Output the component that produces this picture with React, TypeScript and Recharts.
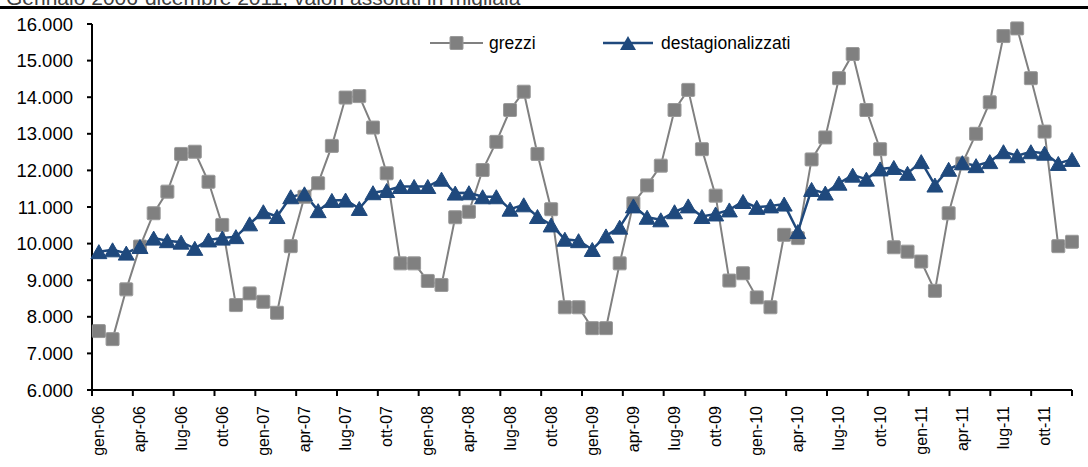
import { LineChart, Line, XAxis, YAxis } from 'recharts';

const mesi = ['gen', 'feb', 'mar', 'apr', 'mag', 'giu', 'lug', 'ago', 'set', 'ott', 'nov', 'dic'];
const anni = ['06', '07', '08', '09', '10', '11'];
const categorie = anni.flatMap((a) => mesi.map((m) => `${m}-${a}`));

// valori assoluti in migliaia, gennaio 2006 - dicembre 2011
const grezzi = [
  7610, 7390, 8750, 9920, 10830, 11420, 12450, 12510, 11690, 10510, 8320, 8640,
  8410, 8110, 9930, 11280, 11650, 12670, 13990, 14030, 13170, 11920, 9460, 9460,
  8980, 8870, 10720, 10870, 12010, 12780, 13650, 14150, 12450, 10940, 8260, 8260,
  7690, 7690, 9460, 11100, 11590, 12130, 13650, 14200, 12580, 11310, 8990, 9190,
  8530, 8260, 10240, 10150, 12300, 12900, 14520, 15180, 13650, 12580, 9900, 9780,
  9510, 8710, 10830, 12190, 13000, 13860, 15670, 15880, 14520, 13060, 9930, 10050,
];

const destagionalizzati = [
  9780, 9830, 9740, 9920, 10150, 10080, 10040, 9870, 10100, 10150, 10190, 10540,
  10870, 10740, 11280, 11360, 10900, 11180, 11190, 10960, 11390, 11450, 11560, 11560,
  11560, 11760, 11380, 11390, 11280, 11280, 10940, 11060, 10740, 10510, 10120, 10080,
  9840, 10210, 10450, 11030, 10720, 10650, 10870, 11030, 10740, 10810, 10920, 11150,
  10990, 11030, 11080, 10330, 11480, 11380, 11650, 11870, 11760, 12040, 12080, 11920,
  12240, 11600, 12030, 12210, 12130, 12240, 12510, 12400, 12510, 12470, 12190, 12300,
];

const yTicks = [6000, 7000, 8000, 9000, 10000, 11000, 12000, 13000, 14000, 15000, 16000];

const GRIGIO = '#808080';
const BLU = '#1f497d';
const FONT = '"Liberation Sans Narrow", "Arial Narrow", "Liberation Sans", Arial, sans-serif';

const data = categorie.map((c, i) => ({
  idx: i,
  mese: c,
  grezzi: grezzi[i],
  destagionalizzati: destagionalizzati[i],
}));

const dominio: [number, number] = [-0.5, categorie.length - 1];
// tacche dell'asse ogni tre mesi (24 intervalli sull'intero asse)
const passoTacche = (dominio[1] - dominio[0]) / 24;
const tacche = Array.from({ length: 25 }, (_, k) => dominio[0] + k * passoTacche);
const etichette = categorie.map((_, i) => i).filter((i) => i % 3 === 0);

const migliaia = (v: number) => String(v).replace(/\B(?=(\d{3})+(?!\d))/g, '.');

const Quadrato = (props: any) => {
  const { cx, cy, index } = props;
  return (
    <rect key={`q-${index}`} x={cx - 6.5} y={cy - 6.5} width={13} height={13} rx={1}
      fill={GRIGIO} stroke="#9a9a9a" strokeWidth={1} />
  );
};

const Triangolo = (props: any) => {
  const { cx, cy, index } = props;
  const w = 8, h = 7;
  return (
    <polygon key={`t-${index}`} points={`${cx},${cy - h} ${cx + w},${cy + h} ${cx - w},${cy + h}`}
      fill={BLU} stroke={BLU} strokeWidth={1} strokeLinejoin="round" />
  );
};

const EtichettaMese = (props: any) => {
  const { x, y, payload } = props;
  const ty = y + 15;
  return (
    <text x={x} y={ty} transform={`rotate(-90, ${x}, ${ty})`} textAnchor="end"
      dominantBaseline="central" fontSize={16} fontFamily={FONT} fill="#000">
      {categorie[payload.value]}
    </text>
  );
};

function Legenda() {
  return (
    <svg width={420} height={26} style={{ position: 'absolute', left: 420, top: 30 }}>
      <line x1={10} y1={13} x2={63} y2={13} stroke={GRIGIO} strokeWidth={2} />
      <rect x={30} y={6.5} width={13} height={13} rx={1} fill={GRIGIO} stroke="#9a9a9a" />
      <text x={69} y={13} dominantBaseline="central" fontSize={17.5} fontFamily={FONT}>grezzi</text>
      <line x1={183} y1={13} x2={233} y2={13} stroke={BLU} strokeWidth={2.5} />
      <polygon points="208,6 216,20 200,20" fill={BLU} />
      <text x={241} y={13} dominantBaseline="central" fontSize={17.5} fontFamily={FONT}>destagionalizzati</text>
    </svg>
  );
}

export default function App() {
  return (
    <div style={{ position: 'absolute', left: 0, top: 0, width: 1088, height: 467, overflow: 'hidden', background: '#fff', fontFamily: FONT }}>
      <div style={{ position: 'absolute', left: 6, top: -14, fontSize: 21, color: '#404040', whiteSpace: 'nowrap' }}>
        Gennaio 2006-dicembre 2011; valori assoluti in migliaia
      </div>
      <div style={{ position: 'absolute', left: 0, top: 6, width: 1088, height: 2.5, background: '#000' }} />
      <div style={{ position: 'absolute', left: 0, top: 0 }}>
        <LineChart width={1088} height={467} data={data} margin={{ top: 24, right: 16, bottom: 16, left: 0 }}>
          <XAxis xAxisId={0} dataKey="idx" type="number" domain={dominio} ticks={tacche}
            height={1} tickSize={6} tick={() => <g />} stroke="#000" strokeWidth={2}
            tickLine={{ stroke: '#000', strokeWidth: 2 }} interval={0} />
          <XAxis xAxisId="lab" dataKey="idx" type="number" domain={dominio} ticks={etichette}
            height={60} axisLine={false} tickLine={false} tickSize={0} tickMargin={0}
            tick={EtichettaMese} interval={0} />
          <YAxis domain={[6000, 16000]} ticks={yTicks} width={92} interval={0}
            tickFormatter={migliaia} tickSize={5} tickMargin={14} stroke="#000" strokeWidth={2}
            tick={{ fill: '#000', fontSize: 18.5, fontFamily: FONT }} />
          <Line xAxisId={0} dataKey="grezzi" stroke={GRIGIO} strokeWidth={2} dot={Quadrato}
            isAnimationActive={false} />
          <Line xAxisId={0} dataKey="destagionalizzati" stroke={BLU} strokeWidth={2.5} dot={Triangolo}
            isAnimationActive={false} />
        </LineChart>
      </div>
      <Legenda />
    </div>
  );
}
